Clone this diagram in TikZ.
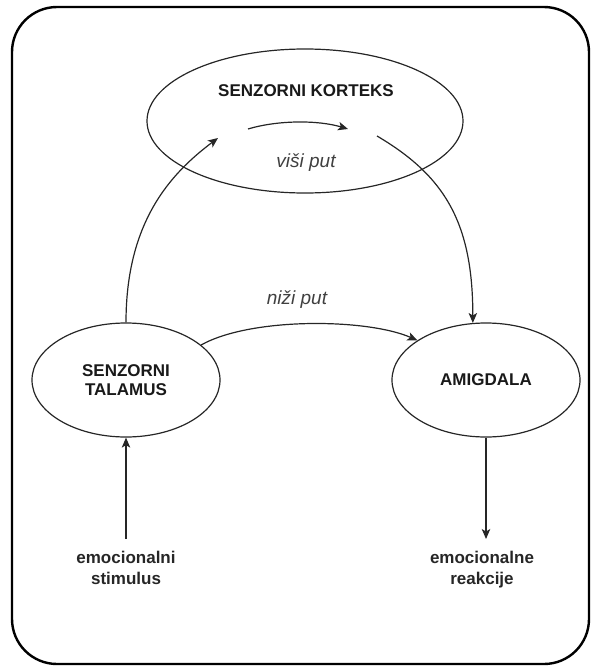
\documentclass[tikz,border=0pt]{standalone}
\usepackage{fontspec}
\setmainfont{Liberation Sans}
\usetikzlibrary{shapes.geometric,arrows.meta}

\tikzset{
  area/.style={ellipse, draw=black!85, line width=1.2pt, minimum width=188pt, minimum height=114pt,
    inner sep=0pt, align=center, font=\fontsize{17}{18.5}\selectfont\bfseries, text=black!90},
  outtext/.style={align=center, font=\fontsize{17}{20.5}\selectfont\bfseries, text=black!85,
    inner xsep=0pt, inner ysep=12pt},
  put/.style={font=\fontsize{19}{21}\selectfont\itshape, text=black!75},
  conn/.style={draw=black!85, line width=1.2pt, -{Stealth[length=10pt,width=8.5pt,inset=2.5pt]}}
}

\begin{document}
\begin{tikzpicture}[x=1pt,y=-1pt]
  \useasboundingbox (0,0) rectangle (591,667);
  % frame
  \draw[line width=2.4pt, rounded corners=45pt] (12,7) rectangle (589,664);

  % brain parts
  \node[area, minimum width=316pt, minimum height=144pt] (kortex) at (305,121) {};
  \node[font=\fontsize{17}{18.5}\selectfont\bfseries, text=black!90] (kortexName) at (306,91) {SENZORNI KORTEKS};
  \node[area] (talamus) at (126,380) {SENZORNI\\TALAMUS};
  \node[area] (amigdala) at (486,380) {AMIGDALA};

  % input and output
  \node[outtext, anchor=north] (stimulus) at (126,539) {emocionalni\\stimulus};
  \node[outtext, anchor=north] (reakcije) at (482,539) {emocionalne\\reakcije};

  % free ends inside the cortex
  \coordinate (viStart) at (248,129);
  \coordinate (viEnd) at (348,129);
  \coordinate (kortIn) at (218,138);
  \coordinate (kortOut) at (377,136);

  % paths
  \draw[conn] (stimulus.north) -- (talamus.south);
  \draw[conn] (talamus.north) .. controls +(0,-100) and +(-48,36) .. (kortIn);
  \draw[conn] (viStart) .. controls +(30,-9) and +(-30,-9) .. (viEnd);
  \draw[conn] (kortOut) .. controls +(68,40) and +(0,-100) .. (amigdala.103);
  \draw[conn] (talamus.25) .. controls +(50,-28) and +(-50,-22) .. (amigdala.150);
  \draw[conn] (amigdala.south) -- (amigdala.south |- reakcije.north);

  % labels
  \node[put] (visi) at (306,163) {viši put};
  \node[put] (nizi) at (297,300) {niži put};
\end{tikzpicture}
\end{document}
